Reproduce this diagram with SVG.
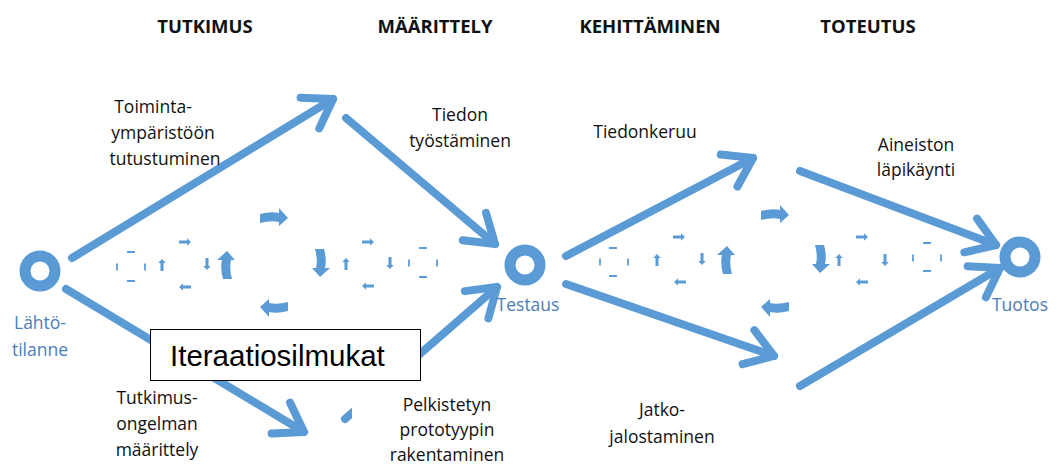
<svg xmlns="http://www.w3.org/2000/svg" width="1057" height="466" viewBox="0 0 1057 466">
  <style>
    .flow { fill: none; stroke: #5b9bd5; stroke-width: 8; stroke-linecap: round; marker-end: url(#head); }
    .ring { fill: none; stroke: #5b9bd5; stroke-width: 11; }
    .phase { font-family: "Open Sans", "Liberation Sans", sans-serif; font-weight: bold; font-size: 18.5px; fill: #111; text-anchor: middle; }
    .lbl { font-family: "Open Sans", "Liberation Sans", sans-serif; font-size: 17.5px; fill: #111; text-anchor: middle; }
    .node-lbl { font-family: "Open Sans", "Liberation Sans", sans-serif; font-size: 17.5px; fill: #4a7dba; text-anchor: middle; }
    .tick { stroke: #5b9bd5; stroke-width: 2.5; stroke-linecap: round; }
    .loop { fill: #5b9bd5; }
  </style>
  <defs>
    <marker id="head" markerUnits="userSpaceOnUse" viewBox="-40 -30 50 60" refX="0" refY="0" markerWidth="50" markerHeight="60" orient="auto" overflow="visible">
      <path d="M-27,-18 L0,0 L-27,18" fill="none" stroke="#5b9bd5" stroke-width="8" stroke-linecap="round" stroke-linejoin="round"/>
    </marker>
    <!-- large bent loop arrow, pointing right, centred on origin -->
    <g id="bigArrow">
      <path class="loop" d="M-14,-4 Q-3,-7 5,-5 L5,-10 L14,0 L5,8 L5,4 Q-3,2 -14,5 Z"/>
    </g>
    <!-- small loop arrow, pointing right -->
    <g id="smallArrow">
      <path class="loop" d="M-6,-1.5 L2,-1.5 L2,-3.8 L6,0 L2,3.8 L2,1.5 L-6,1.5 Z"/>
    </g>
    <!-- tiny dash -->
    <g id="dash">
      <line class="tick" x1="-4" y1="0" x2="4" y2="0"/>
    </g>
  </defs>

  <rect width="1057" height="466" fill="#fff"/>

  <!-- phase headings -->
  <g id="phases">
    <text class="phase" x="205" y="33">TUTKIMUS</text>
    <text class="phase" x="435" y="33">MÄÄRITTELY</text>
    <text class="phase" x="650" y="33">KEHITTÄMINEN</text>
    <text class="phase" x="868" y="33">TOTEUTUS</text>
  </g>

  <!-- connectors -->
  <g id="connectors">
    <line class="flow" x1="72" y1="258" x2="333" y2="99"/>
    <line class="flow" x1="346" y1="118" x2="495" y2="244"/>
    <line class="flow" x1="66" y1="289" x2="304" y2="432"/>
    <line class="flow" x1="345" y1="419" x2="497" y2="287"/>
    <line class="flow" x1="566" y1="256" x2="753" y2="158"/>
    <line class="flow" x1="800" y1="171" x2="996" y2="245"/>
    <line class="flow" x1="566" y1="284" x2="774" y2="356"/>
    <line class="flow" x1="800" y1="386" x2="1000" y2="268"/>
  </g>

  <!-- iteration loops, research and definition -->
  <g id="loops-left">
    <use href="#bigArrow" transform="translate(274,218)"/>
    <use href="#bigArrow" transform="translate(274,307) rotate(180)"/>
    <use href="#bigArrow" transform="translate(227,265) rotate(-90)"/>
    <use href="#bigArrow" transform="translate(320,263) rotate(90)"/>
    <use href="#smallArrow" transform="translate(185,242)"/>
    <use href="#smallArrow" transform="translate(185,287) rotate(180)"/>
    <use href="#smallArrow" transform="translate(162,265) rotate(-90)"/>
    <use href="#smallArrow" transform="translate(207,264) rotate(90)"/>
    <use href="#smallArrow" transform="translate(346,264) rotate(-90)"/>
    <use href="#smallArrow" transform="translate(368,242)"/>
    <use href="#smallArrow" transform="translate(368,286) rotate(180)"/>
    <use href="#smallArrow" transform="translate(390,263) rotate(90)"/>
    <use href="#dash" transform="translate(131,252) scale(0.8)"/>
    <use href="#dash" transform="translate(131,281) scale(0.8)"/>
    <use href="#dash" transform="translate(117,267) rotate(90) scale(0.7)"/>
    <use href="#dash" transform="translate(145,267) rotate(90) scale(0.7)"/>
    <use href="#dash" transform="translate(423,248) scale(0.8)"/>
    <use href="#dash" transform="translate(423,277) scale(0.8)"/>
    <use href="#dash" transform="translate(409,263) rotate(90) scale(0.7)"/>
    <use href="#dash" transform="translate(437,263) rotate(90) scale(0.7)"/>
  </g>

  <!-- iteration loops, development and implementation -->
  <g id="loops-right">
    <use href="#bigArrow" transform="translate(775,215)"/>
    <use href="#bigArrow" transform="translate(775,307) rotate(180)"/>
    <use href="#bigArrow" transform="translate(727,260) rotate(-90)"/>
    <use href="#bigArrow" transform="translate(820,259) rotate(90)"/>
    <use href="#smallArrow" transform="translate(679,237)"/>
    <use href="#smallArrow" transform="translate(680,282) rotate(180)"/>
    <use href="#smallArrow" transform="translate(657,260) rotate(-90)"/>
    <use href="#smallArrow" transform="translate(702,259) rotate(90)"/>
    <use href="#smallArrow" transform="translate(839,260) rotate(-90)"/>
    <use href="#smallArrow" transform="translate(862,237)"/>
    <use href="#smallArrow" transform="translate(862,282) rotate(180)"/>
    <use href="#smallArrow" transform="translate(885,260) rotate(90)"/>
    <use href="#dash" transform="translate(613,248) scale(0.8)"/>
    <use href="#dash" transform="translate(613,276) scale(0.8)"/>
    <use href="#dash" transform="translate(600,262) rotate(90) scale(0.7)"/>
    <use href="#dash" transform="translate(628,262) rotate(90) scale(0.7)"/>
    <use href="#dash" transform="translate(927,243) scale(0.8)"/>
    <use href="#dash" transform="translate(927,271) scale(0.8)"/>
    <use href="#dash" transform="translate(913,258) rotate(90) scale(0.7)"/>
    <use href="#dash" transform="translate(941,258) rotate(90) scale(0.7)"/>
  </g>

  <!-- nodes -->
  <g id="node-lahto">
    <circle class="ring" cx="40" cy="271" r="15"/>
    <text class="node-lbl" x="40" y="329">Lähtö-</text>
    <text class="node-lbl" x="40" y="356">tilanne</text>
  </g>
  <g id="node-testaus">
    <circle class="ring" cx="525" cy="265" r="15"/>
    <text class="node-lbl" x="528" y="311">Testaus</text>
  </g>
  <g id="node-tuotos">
    <circle class="ring" cx="1020" cy="257" r="15"/>
    <text class="node-lbl" x="1020" y="311">Tuotos</text>
  </g>

  <!-- step labels -->
  <g id="label-toiminta">
    <text class="lbl" x="153" y="113">Toiminta-</text>
    <text class="lbl" x="163" y="139">ympäristöön</text>
    <text class="lbl" x="165" y="165">tutustuminen</text>
  </g>
  <g id="label-tiedon">
    <text class="lbl" x="460" y="121">Tiedon</text>
    <text class="lbl" x="460" y="147">työstäminen</text>
  </g>
  <g id="label-tiedonkeruu">
    <text class="lbl" x="645" y="138">Tiedonkeruu</text>
  </g>
  <g id="label-aineiston">
    <text class="lbl" x="916" y="151">Aineiston</text>
    <text class="lbl" x="916" y="176">läpikäynti</text>
  </g>
  <g id="label-tutkimus">
    <text class="lbl" x="157" y="404">Tutkimus-</text>
    <text class="lbl" x="157" y="430">ongelman</text>
    <text class="lbl" x="157" y="456">määrittely</text>
  </g>
  <g id="label-pelkistetyn">
    <rect x="352" y="381" width="190" height="85" fill="#fff"/>
    <text class="lbl" x="447" y="411">Pelkistetyn</text>
    <text class="lbl" x="447" y="436">prototyypin</text>
    <text class="lbl" x="447" y="461">rakentaminen</text>
  </g>
  <g id="label-jatko">
    <text class="lbl" x="662" y="416">Jatko-</text>
    <text class="lbl" x="662" y="443">jalostaminen</text>
  </g>

  <!-- caption box -->
  <g id="caption">
    <rect x="150.5" y="329.5" width="270" height="51" fill="#fff" stroke="#000" stroke-width="1"/>
    <text x="170" y="366" font-family="'Liberation Sans', Arial, sans-serif" font-size="29.5" fill="#000">Iteraatiosilmukat</text>
  </g>
</svg>
